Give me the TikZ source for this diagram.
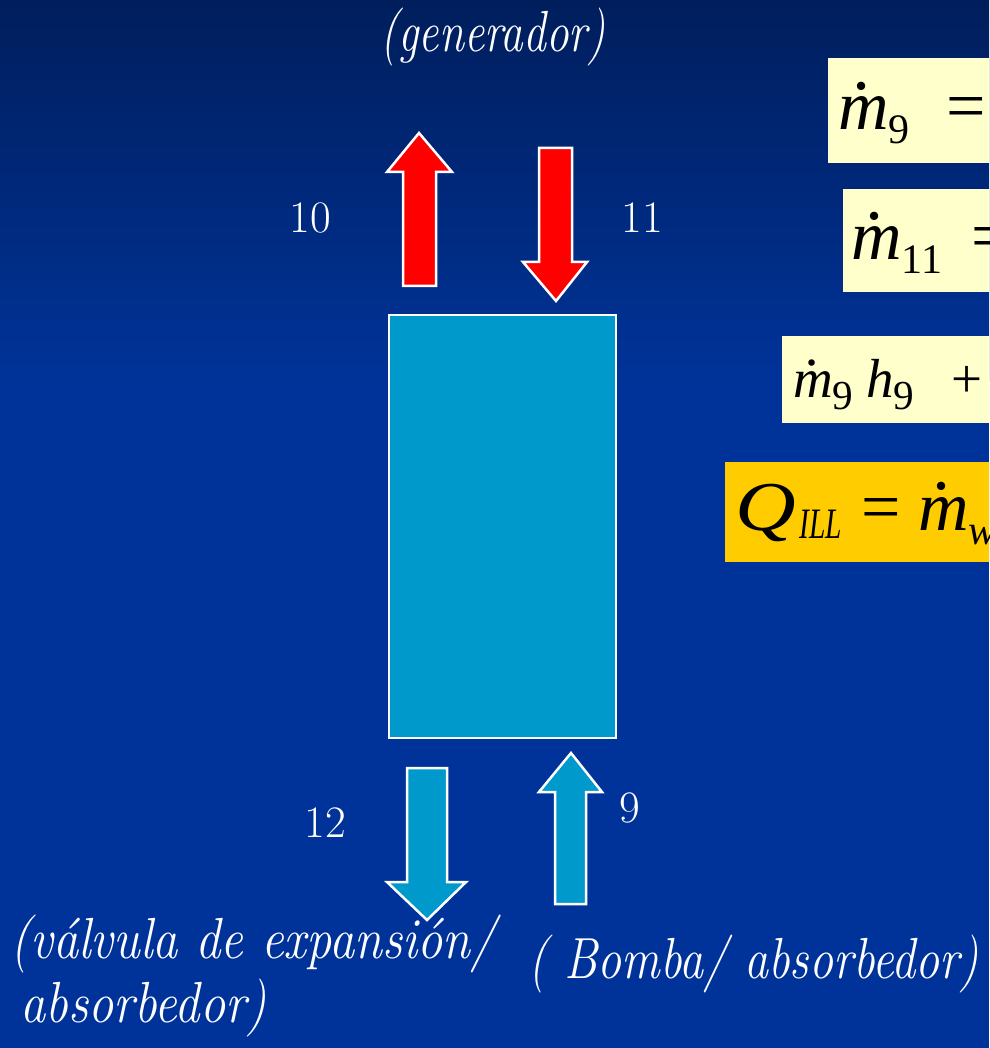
\documentclass[tikz,border=0pt]{standalone}
\usepackage{fontspec}
\usepackage{graphicx}
\newfontfamily\tms{Liberation Serif}
\definecolor{bgtop}{HTML}{001E5C}
\definecolor{bgmain}{HTML}{003399}
\definecolor{tankblue}{HTML}{0099CC}
\definecolor{hotred}{HTML}{FF0000}
\definecolor{paleyel}{HTML}{FFFFCC}
\definecolor{goldbox}{HTML}{FFCC00}
\newcommand\mdt{\ooalign{m\cr\hidewidth\raisebox{0.58em}{.}\hidewidth\cr}}
\newcommand\sbx[2][0.2em]{\raisebox{-#1}{\scalebox{0.6}{\upshape #2}}}
\newcommand\sbxl[2][0.2em]{\raisebox{-#1}{\scalebox{0.75}{\upshape #2}}}
\tikzset{
  blockarrow/.style={draw=white, line width=2.5pt, line join=miter},
  lbl/.style={text=white, inner sep=0pt, font=\fontsize{58}{60}\selectfont\itshape},
  numlbl/.style={text=white, inner sep=0pt, font=\fontsize{45}{45}\selectfont},
  eqbig/.style={text=black, inner sep=0pt, anchor=base west, font=\tms\fontsize{70}{70}\selectfont\itshape},
  eqmid/.style={text=black, inner sep=0pt, anchor=base west, font=\tms\fontsize{55}{55}\selectfont\itshape},
}
\begin{document}
\begin{tikzpicture}[x=1pt,y=-1pt]
\useasboundingbox (0,0) rectangle (989,1048);
\clip (0,0) rectangle (989,1048);
% background
\fill[bgmain] (0,0) rectangle (989,1048);
\shade[top color=bgtop, bottom color=bgmain] (0,0) rectangle (989,380);

% tank
\node[draw=white, line width=2.5pt, fill=tankblue, minimum width=227pt, minimum height=423pt, inner sep=0pt] (tank) at (502.5,526.5) {};

% block arrows
\draw[blockarrow, fill=hotred] (403,286) -- (403,172) -- (387,172) -- (419,133) -- (452,172) -- (436,172) -- (436,286) -- cycle;
\draw[blockarrow, fill=hotred] (539,148) -- (572,148) -- (572,262) -- (587,262) -- (556,301) -- (523,262) -- (539,262) -- cycle;
\draw[blockarrow, fill=tankblue] (407,768) -- (447,768) -- (447,882) -- (466,882) -- (427,920) -- (387,882) -- (407,882) -- cycle;
\draw[blockarrow, fill=tankblue] (555,904) -- (555,792) -- (539,792) -- (571,753) -- (602,792) -- (586,792) -- (586,904) -- cycle;

% stream numbers
\node[numlbl] (n10) at (310,218) {10};
\node[numlbl] (n11) at (642,218) {11};
\node[numlbl] (n12) at (325,823) {12};
\node[numlbl] (n9) at (630,808) {9};

% labels
\node[lbl] (gen) at (493,37) {\scalebox{0.78}[1]{(generador)}};
\node[lbl, anchor=base west] (valv) at (10,958) {\scalebox{0.87}[1]{(válvula de expansión/}};
\node[lbl, anchor=base west] (valv2) at (20,1022) {\scalebox{0.87}[1]{absorbedor)}};
\node[lbl, anchor=base west] (bomba) at (528,978) {\scalebox{0.83}[1]{( Bomba/ absorbedor)}};

% equation boxes
\fill[paleyel] (828,58) rectangle (1000,163);
\node[eqbig] (e1m) at (838,130) {\mdt\sbx{9}};
\node[eqbig] (e1eq) at (946,130) {\upshape =};

\fill[paleyel] (843,189) rectangle (1000,292);
\node[eqbig] (e2m) at (851,260) {\mdt\sbx{11}};
\node[eqbig] (e2eq) at (971,260) {\upshape =};

\fill[paleyel] (782,336) rectangle (1000,423);
\node[eqmid] (e3m) at (793,397) {\mdt\sbxl[0.22em]{9}};
\node[eqmid] (e3h) at (866,397) {h\sbxl[0.22em]{9}};
\node[eqmid] (e3p) at (951,397) {\upshape +};

\fill[goldbox] (725,462) rectangle (1000,562);
\node[eqbig] (e4q) at (735,530) {\scalebox{1.2}[1]{Q}};
\node[eqbig] (e4s) at (799,538) {\scalebox{0.42}[0.62]{ILL}};
\node[eqbig] (e4eq) at (861,530) {\upshape =};
\node[eqbig] (e4m) at (918,530) {\mdt\sbx{\itshape w}};
\end{tikzpicture}
\end{document}
